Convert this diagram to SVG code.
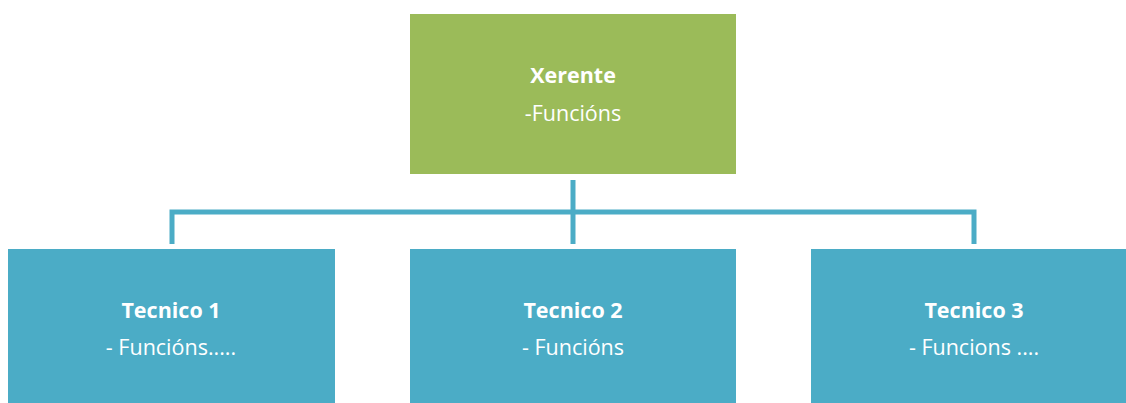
<svg xmlns="http://www.w3.org/2000/svg" width="1126" height="403" viewBox="0 0 1126 403">
<style>
.t{font-family:"Open Sans","Liberation Sans",sans-serif;font-size:21.5px;fill:#fff;text-anchor:middle}
.b{font-weight:bold}
.c{stroke:#4BACC6;stroke-width:5;fill:none}
</style>
<rect width="1126" height="403" fill="#fff"/>
<g id="connectors">
<line class="c" x1="573" y1="180" x2="573" y2="244"/>
<path class="c" d="M172 244 V212 H974 V244"/>
</g>
<g id="xerente">
<rect x="410" y="14" width="326" height="160" fill="#9BBB59"/>
<text class="t b" x="573" y="83">Xerente</text>
<text class="t" x="573" y="121">-Funcións</text>
</g>
<g id="tecnico1">
<rect x="8" y="249" width="327" height="160" fill="#4BACC6"/>
<text class="t b" x="171" y="318">Tecnico 1</text>
<text class="t" x="171" y="355">- Funcións.....</text>
</g>
<g id="tecnico2">
<rect x="410" y="249" width="326" height="160" fill="#4BACC6"/>
<text class="t b" x="573" y="318">Tecnico 2</text>
<text class="t" x="573" y="355">- Funcións</text>
</g>
<g id="tecnico3">
<rect x="811" y="249" width="326" height="160" fill="#4BACC6"/>
<text class="t b" x="974" y="318">Tecnico 3</text>
<text class="t" x="974" y="355">- Funcions ....</text>
</g>
</svg>
